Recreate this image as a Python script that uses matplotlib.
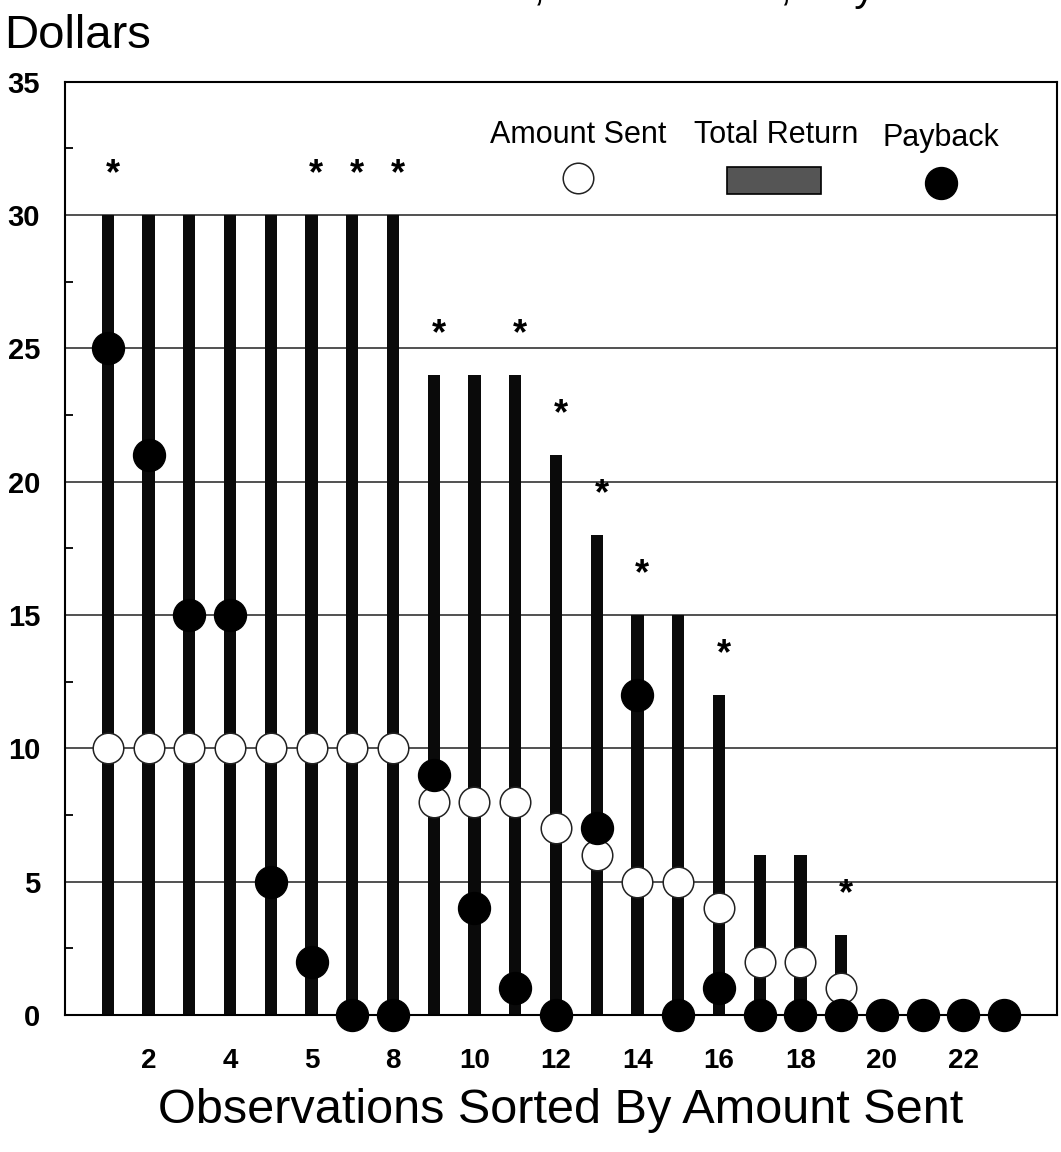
import numpy as np
import matplotlib.pyplot as plt

plt.rcParams['font.family'] = ['Liberation Sans', 'DejaVu Sans']

# observations sorted by amount sent
obs = list(range(1, 24))
amount_sent = [10, 10, 10, 10, 10, 10, 10, 10, 8, 8, 8, 7, 6, 5, 5, 4, 2, 2, 1, 0, 0, 0, 0]
total_return = [30, 30, 30, 30, 30, 30, 30, 30, 24, 24, 24, 21, 18, 15, 15, 12, 6, 6, 3, 0, 0, 0, 0]
payback = [25, 21, 15, 15, 5, 2, 0, 0, 9, 4, 1, 0, 7, 12, 0, 1, 0, 0, 0, 0, 0, 0, 0]
starred = [1, 0, 0, 0, 0, 1, 1, 1, 1, 0, 1, 1, 1, 1, 0, 1, 0, 0, 1, 0, 0, 0, 0]

tick_pos = [2, 4, 6, 8, 10, 12, 14, 16, 18, 20, 22]
tick_labels = ['2', '4', '5', '8', '10', '12', '14', '16', '18', '20', '22']

fig = plt.figure(figsize=(10.61, 11.52), dpi=100)
ax = fig.add_axes([0.0613, 0.119, 0.935, 0.81])

ax.set_xlim(-0.05, 24.3)
ax.set_ylim(0, 35)

for y in [5, 10, 15, 20, 25, 30]:
    ax.axhline(y, color='#333333', lw=1.2, zorder=1)

ax.bar(obs, total_return, width=0.3, color='#0a0a0a', zorder=2)
ax.plot(obs[:19], amount_sent[:19], 'o', ms=22, mfc='white', mec='#222222', mew=1.1,
        zorder=3, clip_on=False)
ax.plot(obs, payback, 'o', ms=23, color='black', zorder=4, clip_on=False)

for x, t, s in zip(obs, total_return, starred):
    if s:
        ax.text(x + 0.12, t + 1.5, '*', ha='center', va='center', fontsize=26,
                fontweight='bold', zorder=5)

# legend drawn inside the plot
ax.text(12.55, 33.0, 'Amount Sent', ha='center', va='center', fontsize=22)
ax.text(17.4, 33.0, 'Total Return', ha='center', va='center', fontsize=22)
ax.text(21.45, 32.9, 'Payback', ha='center', va='center', fontsize=22)
ax.plot([12.55], [31.4], 'o', ms=22, mfc='white', mec='#222222', mew=1.1)
ax.add_patch(plt.Rectangle((16.2, 30.8), 2.3, 1.0, facecolor='#555555', edgecolor='black', lw=1.2))
ax.plot([21.45], [31.2], 'o', ms=23, color='black')

for side in ['top', 'bottom', 'left', 'right']:
    ax.spines[side].set_linewidth(1.5)

ax.set_yticks([0, 5, 10, 15, 20, 25, 30, 35])
ax.set_yticklabels(['0', '5', '10', '15', '20', '25', '30', '35'], fontsize=21, fontweight='bold')
ax.set_yticks(np.arange(2.5, 35, 5), minor=True)
ax.tick_params(axis='y', which='major', length=0, pad=18)
ax.tick_params(axis='y', which='minor', direction='in', length=6, width=1.3)

ax.set_xticks(tick_pos)
ax.set_xticklabels(tick_labels, fontsize=20, fontweight='bold')
ax.tick_params(axis='x', length=0, pad=24)

ax.set_xlabel('Observations Sorted By Amount Sent', fontsize=35, labelpad=10)
fig.text(0.004, 1 - 48 / 1152, 'Dollars', fontsize=34, va='baseline', ha='left')
# title above the page edge, only its lower part shows as in the scan
fig.text(0.9076, 1.0, 'Amount Sent, Total Return, Payback', fontsize=30,
         ha='right', va='baseline')

plt.savefig('out.png')
